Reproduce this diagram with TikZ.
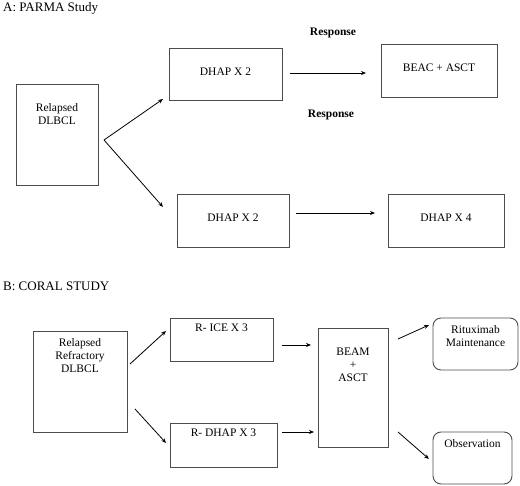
\documentclass[tikz,border=0pt]{standalone}
\usepackage{fontspec}
\setmainfont{Liberation Serif}
\usetikzlibrary{arrows.meta}
\begin{document}
\begin{tikzpicture}[x=1pt,y=-1pt,
  box/.style={draw=black!70, line width=0.9pt, inner sep=0pt},
  rbox/.style={box, rounded corners=8pt},
  txt/.style={font=\fontsize{11.5}{13}\selectfont, align=center, inner sep=0pt},
  resp/.style={font=\fontsize{11.5}{13}\selectfont\bfseries, inner sep=0pt},
  ttl/.style={font=\fontsize{13}{15}\selectfont, anchor=west, inner sep=0pt},
  arr/.style={draw=black, line width=0.8pt, -{Stealth[length=5pt,width=4pt]}}]
\useasboundingbox (0,0) rectangle (520,486);
% Part A
\node[ttl] (tA) at (3,8) {A: PARMA Study};
\node[box, minimum width=82pt, minimum height=101pt] (relA) at (57,134.5) {};
\node[txt] (relAt) at (57,114.5) {Relapsed\\DLBCL};
\node[box, minimum width=113pt, minimum height=52pt] (dhapA) at (225.5,74) {};
\node[txt] (dhapAt) at (225.5,72) {DHAP X 2};
\node[box, minimum width=112pt, minimum height=53pt] (dhapB) at (233,220.5) {};
\node[txt] (dhapBt) at (233,218) {DHAP X 2};
\node[box, minimum width=116pt, minimum height=53pt] (beac) at (439,70.5) {};
\node[txt] (beact) at (439,68) {BEAC + ASCT};
\node[box, minimum width=116pt, minimum height=53pt] (dhap4) at (446,220.5) {};
\node[txt] (dhap4t) at (446,218) {DHAP X 4};
\node[resp] (resp1) at (333,33) {Response};
\node[resp] (resp2) at (331,115) {Response};
\coordinate (aS) at (104,140);
\coordinate (aT1) at (163,99);
\coordinate (aT2) at (163,207);
\coordinate (bS1) at (290,73);
\coordinate (bT1) at (366,73);
\coordinate (bS2) at (296,213);
\coordinate (bT2) at (375,213);
\draw[arr] (aS) -- (aT1);
\draw[arr] (aS) -- (aT2);
\draw[arr] (bS1) -- (bT1);
\draw[arr] (bS2) -- (bT2);
% Part B
\node[ttl] (tB) at (3,286) {B: CORAL STUDY};
\node[box, minimum width=94pt, minimum height=101pt] (relB) at (80,381.5) {};
\node[txt] (relBt) at (80,355.5) {Relapsed\\Refractory\\DLBCL};
\node[box, minimum width=103pt, minimum height=43pt] (ice) at (221.5,339.5) {};
\node[txt] (icet) at (221.5,328) {R- ICE X 3};
\node[box, minimum width=107pt, minimum height=44pt] (rdhap) at (223.5,445) {};
\node[txt] (rdhapt) at (223.5,433) {R- DHAP X 3};
\node[box, minimum width=70pt, minimum height=119pt] (beam) at (353,387.5) {};
\node[txt] (beamt) at (353,365) {BEAM\\+\\ASCT};
\node[rbox, minimum width=85pt, minimum height=52pt] (ritux) at (475.5,344) {};
\node[txt] (rituxt) at (475.5,336.5) {Rituximab\\Maintenance};
\node[rbox, minimum width=79pt, minimum height=52pt] (obs) at (472.5,458) {};
\node[txt] (obst) at (472.5,444) {Observation};
\coordinate (cS1) at (130,364);
\coordinate (cT1) at (166,331);
\coordinate (cS2) at (135,409);
\coordinate (cT2) at (166,443);
\coordinate (dS1) at (282,345);
\coordinate (dT1) at (311,345);
\coordinate (dS2) at (282,432);
\coordinate (dT2) at (314,432);
\coordinate (eS1) at (398,339);
\coordinate (eT1) at (429,325);
\coordinate (eS2) at (398,432);
\coordinate (eT2) at (429,459);
\draw[arr] (cS1) -- (cT1);
\draw[arr] (cS2) -- (cT2);
\draw[arr] (dS1) -- (dT1);
\draw[arr] (dS2) -- (dT2);
\draw[arr] (eS1) -- (eT1);
\draw[arr] (eS2) -- (eT2);
\end{tikzpicture}
\end{document}
